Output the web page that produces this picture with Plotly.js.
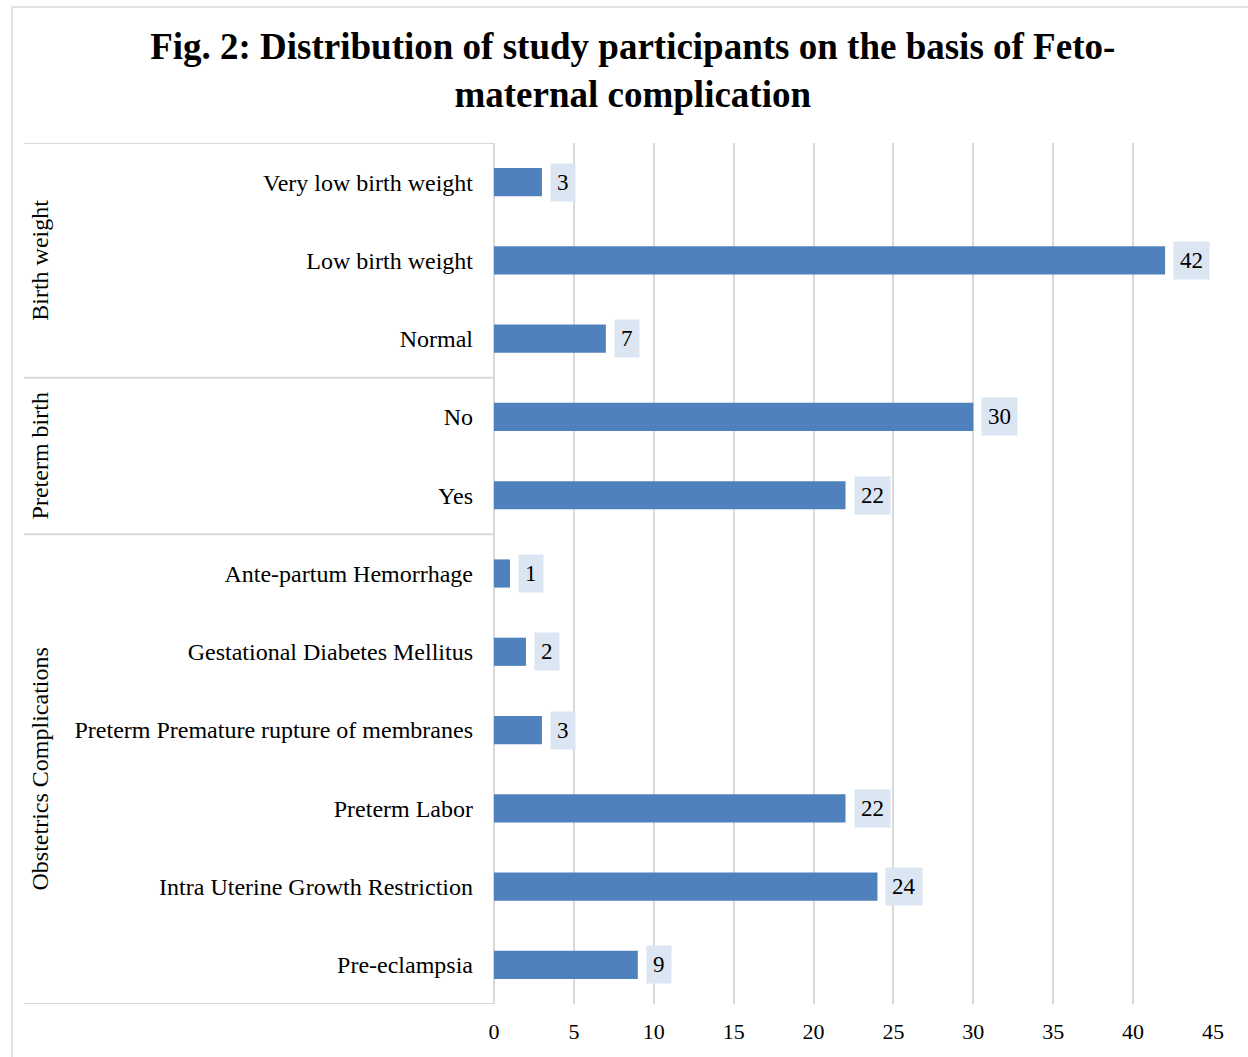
<!DOCTYPE html>
<html><head><meta charset="utf-8">
<script src="https://cdn.plot.ly/plotly-3.0.1.min.js"></script>
<style>html,body{margin:0;padding:0;background:#fff;}</style>
</head><body>
<div id="chart" style="width:1248px;height:1057px;"></div>
<script>
const categories = ["Very low birth weight","Low birth weight","Normal","No","Yes","Ante-partum Hemorrhage","Gestational Diabetes Mellitus","Preterm Premature rupture of membranes","Preterm Labor","Intra Uterine Growth Restriction","Pre-eclampsia"];
const values = [3,42,7,30,22,1,2,3,22,24,9];
const groups = ["Birth weight","Preterm birth","Obstetrics Complications"];
const groupSizes = [3,2,6];
const xTicks = [0,5,10,15,20,25,30,35,40,45];

const FONT = "Liberation Serif, Times New Roman, serif";
const idx = categories.map((c,i)=>i);

const trace = {
  type:'bar', orientation:'h', x: values, y: idx,
  marker:{color:'#4f81bd'}, hoverinfo:'skip'
};

const annotations = values.map((v,i)=>({
  x:v, y:i, xref:'x', yref:'y', text:String(v), showarrow:false,
  xanchor:'left', xshift:8, bgcolor:'#dce6f2', borderpad:6,
  font:{family:FONT, size:23, color:'#000'}
}));

const shapes = [];
const lineStyle = {color:'#d9d9d9', width:2};
shapes.push({type:'line', xref:'paper', yref:'paper', x0:-0.6704, x1:-0.6704, y0:-0.1, y1:1.158, line:{color:'#d9d9d9', width:1.5}});
shapes.push({type:'line', xref:'paper', yref:'paper', x0:-0.6704, x1:1.1, y0:1.158, y1:1.158, line:{color:'#d9d9d9', width:1.5}});
let start = 0;
const bounds = [-0.5];
groupSizes.forEach(s=>{ start += s; bounds.push(start-0.5); });
bounds.forEach(b=>{
  shapes.push({type:'line', xref:'paper', yref:'y', x0:-0.6537, x1:0, y0:b, y1:b, line:lineStyle});
});
start = 0;
groups.forEach((g,k)=>{
  const center = start + (groupSizes[k]-1)/2;
  start += groupSizes[k];
  annotations.push({x:-0.631, y:center, xref:'paper', yref:'y', text:g, textangle:-90,
    showarrow:false, xanchor:'center', yanchor:'middle', font:{family:FONT, size:24, color:'#000'}});
});

const layout = {
  width:1248, height:1057,
  margin:{l:494, r:35, t:143, b:53},
  paper_bgcolor:'#fff', plot_bgcolor:'#fff',
  bargap:0.64,
  showlegend:false,
  title:{text:'<b>Fig. 2: Distribution of study participants on the basis of Feto-<br>maternal complication</b>',
    font:{family:FONT, size:37, color:'#000'}, x:0.507, xref:'container', xanchor:'center', y:0.944, yanchor:'middle'},
  xaxis:{range:[0,45], tickvals:xTicks, ticktext:xTicks.map(String), showgrid:true, gridcolor:'#d9d9d9', gridwidth:2,
    zeroline:true, zerolinecolor:'#d9d9d9', zerolinewidth:2, showline:false, ticks:'',
    tickfont:{family:FONT, size:22, color:'#000'}, ticklabelstandoff:12, fixedrange:true},
  yaxis:{tickvals:idx, ticktext:categories, autorange:false, range:[10.5,-0.5], showgrid:false, zeroline:false,
    showline:false, ticks:'', tickfont:{family:FONT, size:24, color:'#000'}, ticklabelstandoff:20, fixedrange:true},
  shapes:shapes, annotations:annotations
};
Plotly.newPlot('chart',[trace],layout,{displayModeBar:false, staticPlot:true});
</script>
</body></html>
